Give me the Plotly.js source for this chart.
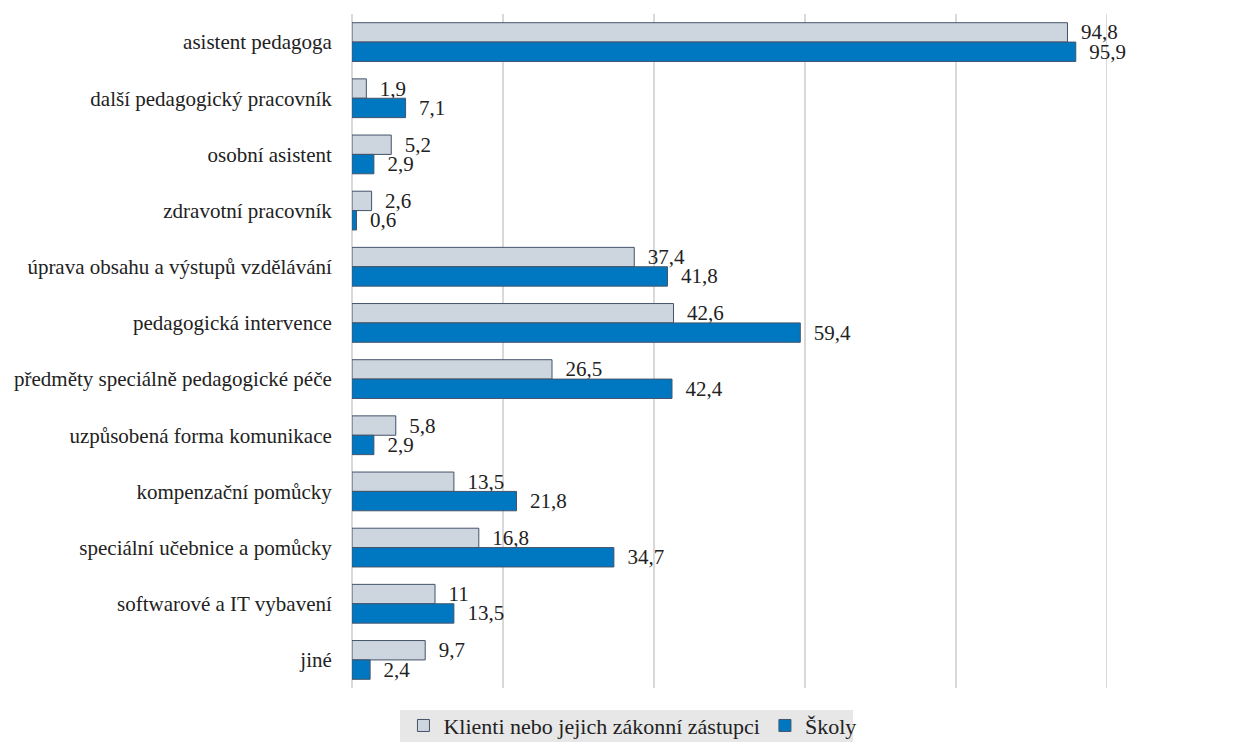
<!DOCTYPE html>
<html><head><meta charset="utf-8">
<script src="https://cdn.plot.ly/plotly-3.0.1.min.js"></script>
<style>html,body{margin:0;padding:0;background:#fff}#c{width:1245px;height:742px}</style>
</head><body><div id="c"></div>
<script>
const categories = ["asistent pedagoga","další pedagogický pracovník","osobní asistent","zdravotní pracovník","úprava obsahu a výstupů vzdělávání","pedagogická intervence","předměty speciálně pedagogické péče","uzpůsobená forma komunikace","kompenzační pomůcky","speciální učebnice a pomůcky","softwarové a IT vybavení","jiné"];
const klienti = [94.8,1.9,5.2,2.6,37.4,42.6,26.5,5.8,13.5,16.8,11,9.7];
const skoly = [95.9,7.1,2.9,0.6,41.8,59.4,42.4,2.9,21.8,34.7,13.5,2.4];
const seriesNames = ["Klienti nebo jejich zákonní zástupci","Školy"];
const fmt = v => '\u00a0\u00a0' + String(v).replace('.', ',');
const font = "Liberation Serif";
const traces = [
 {type:'bar',orientation:'h',name:seriesNames[0],y:categories,x:klienti,text:klienti.map(fmt),textposition:'outside',cliponaxis:false,constraintext:'none',
  marker:{color:'#cdd5de',line:{color:'#44546a',width:1}},textfont:{family:font,size:21,color:'#222'}},
 {type:'bar',orientation:'h',name:seriesNames[1],y:categories,x:skoly,text:skoly.map(fmt),textposition:'outside',cliponaxis:false,constraintext:'none',
  marker:{color:'#0078c1',line:{color:'#44546a',width:1}},textfont:{family:font,size:21,color:'#222'}}
];
const layout = {
 width:1245,height:742,
 margin:{l:352,r:136,t:14,b:54,autoexpand:false},
 font:{family:font,size:21,color:'#222'},
 barmode:'group',bargap:0.31,bargroupgap:0,
 paper_bgcolor:'#fff',plot_bgcolor:'#fff',
 xaxis:{range:[0,100.3],dtick:20,tick0:0,showticklabels:false,showgrid:true,gridcolor:'#d9d9d9',gridwidth:1.5,zeroline:true,zerolinecolor:'#d9d9d9',zerolinewidth:1.5,showline:false,fixedrange:true},
 yaxis:{autorange:'reversed',ticks:'outside',ticklen:15,tickcolor:'rgba(0,0,0,0)',tickfont:{family:font,size:21,color:'#222'},showline:false,fixedrange:true},
 showlegend:true,
 legend:{orientation:'h',xref:'container',yref:'container',x:0.508,xanchor:'center',y:0.022,yanchor:'middle',bgcolor:'rgba(0,0,0,0)',font:{family:font,size:22,color:'#222'},itemwidth:30,traceorder:'normal'},
 shapes:[{type:'rect',xref:'paper',yref:'paper',x0:(400-352)/757,x1:(853-352)/757,y0:-(710-688)/674,y1:-(742-688)/674,fillcolor:'#e7e7e7',line:{width:0},layer:'below'}]
};
Plotly.newPlot('c',traces,layout,{displayModeBar:false,staticPlot:true});
</script></body></html>
